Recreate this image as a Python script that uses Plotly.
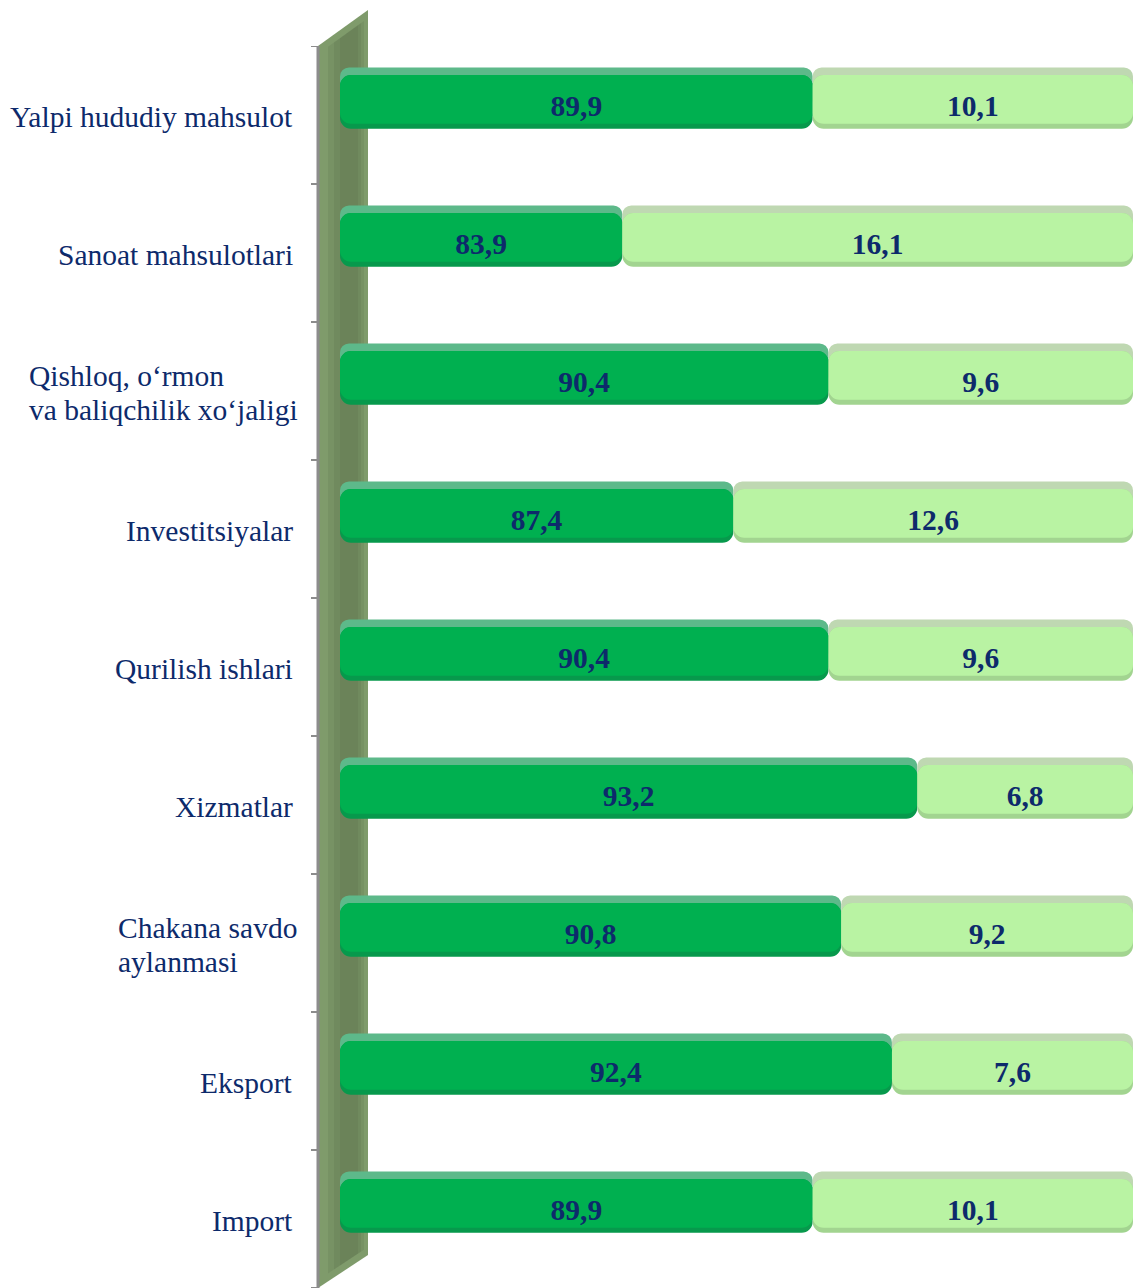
import plotly.graph_objects as go

categories = [
    "Yalpi hududiy mahsulot",
    "Sanoat mahsulotlari",
    "Qishloq, o‘rmon<br>va baliqchilik xo‘jaligi",
    "Investitsiyalar",
    "Qurilish ishlari",
    "Xizmatlar",
    "Chakana savdo<br>aylanmasi",
    "Eksport",
    "Import",
]
share_main = [89.9, 83.9, 90.4, 87.4, 90.4, 93.2, 90.8, 92.4, 89.9]
share_other = [10.1, 16.1, 9.6, 12.6, 9.6, 6.8, 9.2, 7.6, 10.1]
axis_min = 75

W, H = 1133, 1288
L, T = 340, 46
PW, PH = W - L, H - T
UNIT = PH / len(categories)  # pixels per category

def px_x(p):
    return (p - L) / PW

def px_y(p):
    return (H - p) / PH

pos = list(range(len(categories)))
fmt = lambda v: f"{v:.1f}".replace(".", ",")

DARK = "#00b050"
DARK_EDGE = "#07994c"
DARK_TOP = "#5db98a"
LIGHT = "#b9f3a3"
LIGHT_EDGE = "#a2d490"
LIGHT_TOP = "#bfd8b2"
NAVY = "#0d2a6b"
FS = 29.5

main_len = [v - axis_min for v in share_main]
base_main = [axis_min] * len(pos)

fig = go.Figure()

def bar(x, base, color, width, offset, radius, **kw):
    fig.add_trace(go.Bar(y=pos, x=x, base=base, orientation="h", width=width, offset=offset,
                         marker=dict(color=color, cornerradius=radius, line=dict(width=0)),
                         showlegend=False, **kw))

face_off = -0.29
face_w = 0.39
# top (depth) faces
bar(main_len, base_main, DARK_TOP, 0.30, -0.345, 9, hoverinfo="skip")
bar(share_other, share_main, LIGHT_TOP, 0.30, -0.345, 9, hoverinfo="skip")
# front faces: darker full shape, then main colour slightly shorter at the bottom
bar(main_len, base_main, DARK_EDGE, face_w, face_off, 11, hoverinfo="skip")
bar(share_other, share_main, LIGHT_EDGE, face_w, face_off, 11, hoverinfo="skip")
bar(main_len, base_main, DARK, face_w - 5 / UNIT, face_off, 11, hoverinfo="skip")
bar(share_other, share_main, LIGHT, face_w - 5 / UNIT, face_off, 11, hoverinfo="skip")
# value labels (transparent carrier bars, centred slightly lower)
tf = dict(family="Liberation Serif", size=FS, color=NAVY, weight="bold")
bar(main_len, base_main, "rgba(0,0,0,0)", face_w, face_off + 4 / UNIT, 0,
    text=[fmt(v) for v in share_main], textposition="inside", insidetextanchor="middle",
    constraintext="none", textfont=tf, hovertemplate="%{text}<extra></extra>")
bar(share_other, share_main, "rgba(0,0,0,0)", face_w, face_off + 4 / UNIT, 0,
    text=[fmt(v) for v in share_other], textposition="inside", insidetextanchor="middle",
    constraintext="none", textfont=tf, hovertemplate="%{text}<extra></extra>")

shapes = []
# wall
x0, x1 = px_x(318), px_x(368)
shapes.append(dict(type="path", xref="paper", yref="paper", layer="below",
                   path=f"M {x0},{px_y(1288)} L {x0},{px_y(46)} L {x1},{px_y(10)} L {x1},{px_y(1255)} Z",
                   fillcolor="#7f9b6b", line=dict(width=0)))
# soft darker band inside the wall
for (a, b) in [(328, 364), (334, 361), (340, 358)]:
    xa, xb = px_x(a), px_x(b)
    ta = 46 - (a - 318) * 36 / 50
    tb = 46 - (b - 318) * 36 / 50
    ba = 1288 - (a - 318) * 33 / 50
    bb = 1288 - (b - 318) * 33 / 50
    shapes.append(dict(type="path", xref="paper", yref="paper", layer="below", opacity=0.16,
                       path=f"M {xa},{px_y(ba - 8)} L {xa},{px_y(ta + 8)} L {xb},{px_y(tb + 8)} L {xb},{px_y(bb - 8)} Z",
                       fillcolor="#4f6644", line=dict(width=0)))
shapes.append(dict(type="line", xref="paper", yref="paper", layer="below",
                   x0=x0, x1=x0, y0=px_y(1288), y1=px_y(46), line=dict(color="#8c8c8c", width=3)))
# category boundary ticks
for i in range(len(categories) + 1):
    shapes.append(dict(type="line", xref="paper", yref="y", x0=px_x(311), x1=x0,
                       y0=i - 0.5, y1=i - 0.5, line=dict(color="#8c8c8c", width=2)))

# category labels; multi-line labels are left aligned as a block
LINE_GAP = 34
block_left = {2: 27, 6: 116}
annotations = []
for i, c in enumerate(categories):
    lines = c.split("<br>")
    n = len(lines)
    for k, ln in enumerate(lines):
        shift = ((n - 1) / 2 - k) * LINE_GAP - 2
        if n == 1:
            x, xanchor = px_x(295), "right"
        else:
            x, xanchor = px_x(block_left[i]), "left"
        annotations.append(dict(xref="paper", yref="y", x=x, xanchor=xanchor, y=i, text=ln,
                                showarrow=False, yshift=shift, yanchor="middle",
                                font=dict(family="Liberation Serif", size=FS, color=NAVY)))

fig.update_layout(
    width=W, height=H,
    margin=dict(l=L, r=0, t=T, b=0),
    paper_bgcolor="white", plot_bgcolor="rgba(0,0,0,0)",
    barmode="overlay",
    shapes=shapes, annotations=annotations,
    xaxis=dict(range=[axis_min, 100], visible=False, fixedrange=True),
    yaxis=dict(range=[len(categories) - 0.5, -0.5], visible=False, fixedrange=True),
)

fig.write_html("out.html")
